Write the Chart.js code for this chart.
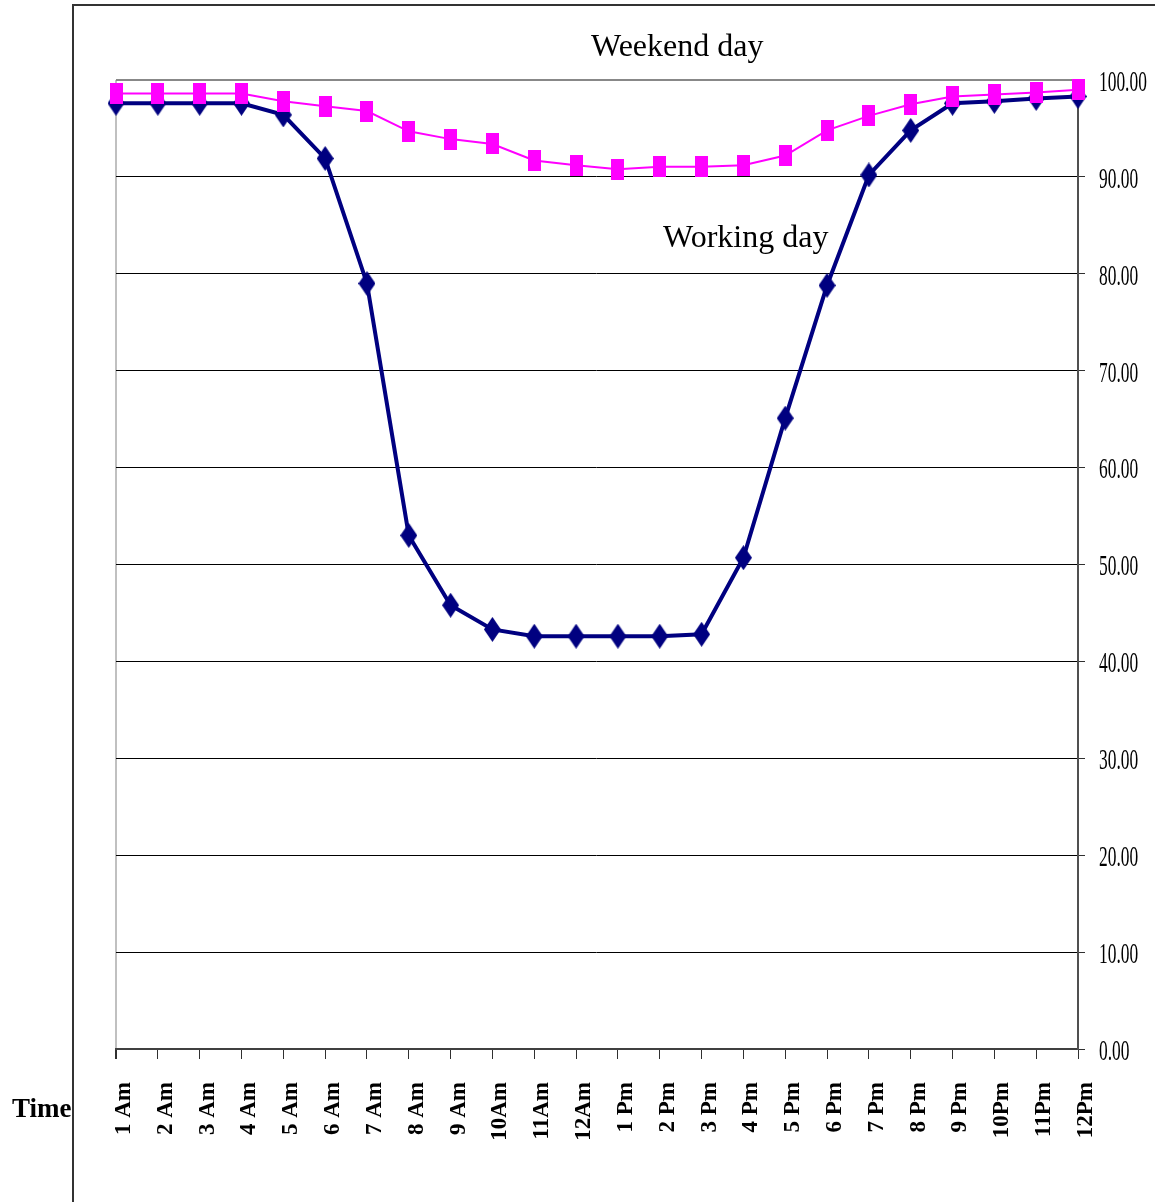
<!DOCTYPE html>
<html>
<head>
<meta charset="utf-8">
<script src="https://cdn.jsdelivr.net/npm/chart.js@4"></script>
<style>
  body { margin: 0; background: #fff; }
  canvas { display: block; }
</style>
</head>
<body>
<canvas id="chart" width="1155" height="1202"></canvas>
<script>
// Data
const hours = ['1 Am', '2 Am', '3 Am', '4 Am', '5 Am', '6 Am', '7 Am', '8 Am', '9 Am', '10Am', '11Am', '12Am',
               '1 Pm', '2 Pm', '3 Pm', '4 Pm', '5 Pm', '6 Pm', '7 Pm', '8 Pm', '9 Pm', '10Pm', '11Pm', '12Pm'];
const workingDay = [97.6, 97.6, 97.6, 97.6, 96.4, 91.9, 79.0, 53.0, 45.8, 43.3, 42.6, 42.6,
                    42.6, 42.6, 42.8, 50.7, 65.1, 78.8, 90.2, 94.8, 97.6, 97.8, 98.1, 98.3];
const weekendDay = [98.6, 98.6, 98.6, 98.6, 97.8, 97.3, 96.8, 94.7, 93.9, 93.4, 91.7, 91.2,
                    90.8, 91.05, 91.05, 91.2, 92.2, 94.8, 96.3, 97.5, 98.3, 98.5, 98.7, 99.0];
const yTicks = [0, 10, 20, 30, 40, 50, 60, 70, 80, 90, 100];

// tall marker shapes, like the old spreadsheet ones
function makeMarker(w, h, color, shape) {
    const c = document.createElement('canvas');
    c.width = w;
    c.height = h;
    const g = c.getContext('2d');
    g.fillStyle = color;
    if (shape === 'diamond') {
        g.beginPath();
        g.moveTo(w / 2, 0);
        g.lineTo(w, h / 2);
        g.lineTo(w / 2, h);
        g.lineTo(0, h / 2);
        g.closePath();
        g.fill();
    } else {
        g.fillRect(0, 0, w, h);
    }
    return c;
}

const diamond = makeMarker(17, 25, '#000080', 'diamond');
const square = makeMarker(13, 21, '#ff00ff', 'square');

const framePlugin = {
    id: 'frame',
    beforeDraw(chart) {
        const ctx = chart.ctx;
        ctx.save();
        ctx.strokeStyle = '#333';
        ctx.lineWidth = 2;
        ctx.beginPath();
        ctx.moveTo(73, 1202);
        ctx.lineTo(73, 5);
        ctx.lineTo(1155, 5);
        ctx.stroke();
        ctx.restore();
    }
};

const textPlugin = {
    id: 'texts',
    afterDraw(chart) {
        const ctx = chart.ctx;
        const y = chart.scales.y;
        ctx.save();
        ctx.fillStyle = '#000';
        // condensed value labels on the right axis
        ctx.textBaseline = 'middle';
        ctx.textAlign = 'left';
        ctx.font = '30px "Liberation Serif"';
        yTicks.forEach(v => {
            const py = y.getPixelForValue(v) + 3;
            ctx.save();
            ctx.translate(1099, py);
            ctx.scale(0.58, 1);
            ctx.fillText(v.toFixed(2), 0, 0);
            ctx.restore();
        });
        // series names and axis name
        ctx.textBaseline = 'alphabetic';
        ctx.font = '32px "Liberation Serif"';
        ctx.fillText('Weekend day', 591, 56);
        ctx.fillText('Working day', 663, 247);
        ctx.font = 'bold 27px "Liberation Serif"';
        ctx.fillText('Time', 12, 1117);
        ctx.restore();
    }
};

new Chart(document.getElementById('chart'), {
    type: 'line',
    data: {
        labels: hours,
        datasets: [{
            label: 'Working day',
            data: workingDay,
            borderColor: '#000080',
            borderWidth: 4,
            pointStyle: diamond,
            order: 1,
            clip: false
        }, {
            label: 'Weekend day',
            data: weekendDay,
            borderColor: '#ff00ff',
            borderWidth: 2,
            pointStyle: square,
            order: 0,
            clip: false
        }]
    },
    options: {
        responsive: false,
        animation: false,
        layout: {
            padding: { left: 116, top: 80, right: 0, bottom: 0 }
        },
        plugins: {
            legend: { display: false },
            tooltip: { enabled: false }
        },
        scales: {
            x: {
                offset: false,
                afterFit: (scale) => { scale.height = 153; },
                grid: {
                    drawOnChartArea: true,
                    color: ctx => ctx.index === 0 ? '#c0c0c0' : 'rgba(0,0,0,0)',
                    lineWidth: ctx => ctx.index === 0 ? 2 : 1,
                    tickColor: '#303030',
                    tickLength: 10
                },
                border: { color: '#404040', width: 2 },
                ticks: {
                    minRotation: 90,
                    maxRotation: 90,
                    autoSkip: false,
                    padding: 23,
                    labelOffset: 8,
                    color: '#000',
                    font: { family: '"Liberation Serif"', size: 23, weight: 'bold' }
                }
            },
            y: {
                position: 'right',
                min: 0,
                max: 100,
                afterFit: (scale) => { scale.width = 77; },
                afterBuildTicks: (scale) => { scale.ticks = yTicks.map(v => ({ value: v })); },
                grid: {
                    color: ctx => ctx.tick && ctx.tick.value === 100 ? '#888' : '#000',
                    lineWidth: ctx => ctx.tick && ctx.tick.value === 100 ? 2 : 1,
                    tickColor: '#303030',
                    tickLength: 7
                },
                border: { color: '#505050', width: 2 },
                ticks: {
                    color: 'rgba(0,0,0,0)',
                    font: { family: '"Liberation Serif"', size: 18 }
                }
            }
        }
    },
    plugins: [framePlugin, textPlugin]
});
</script>
</body>
</html>
